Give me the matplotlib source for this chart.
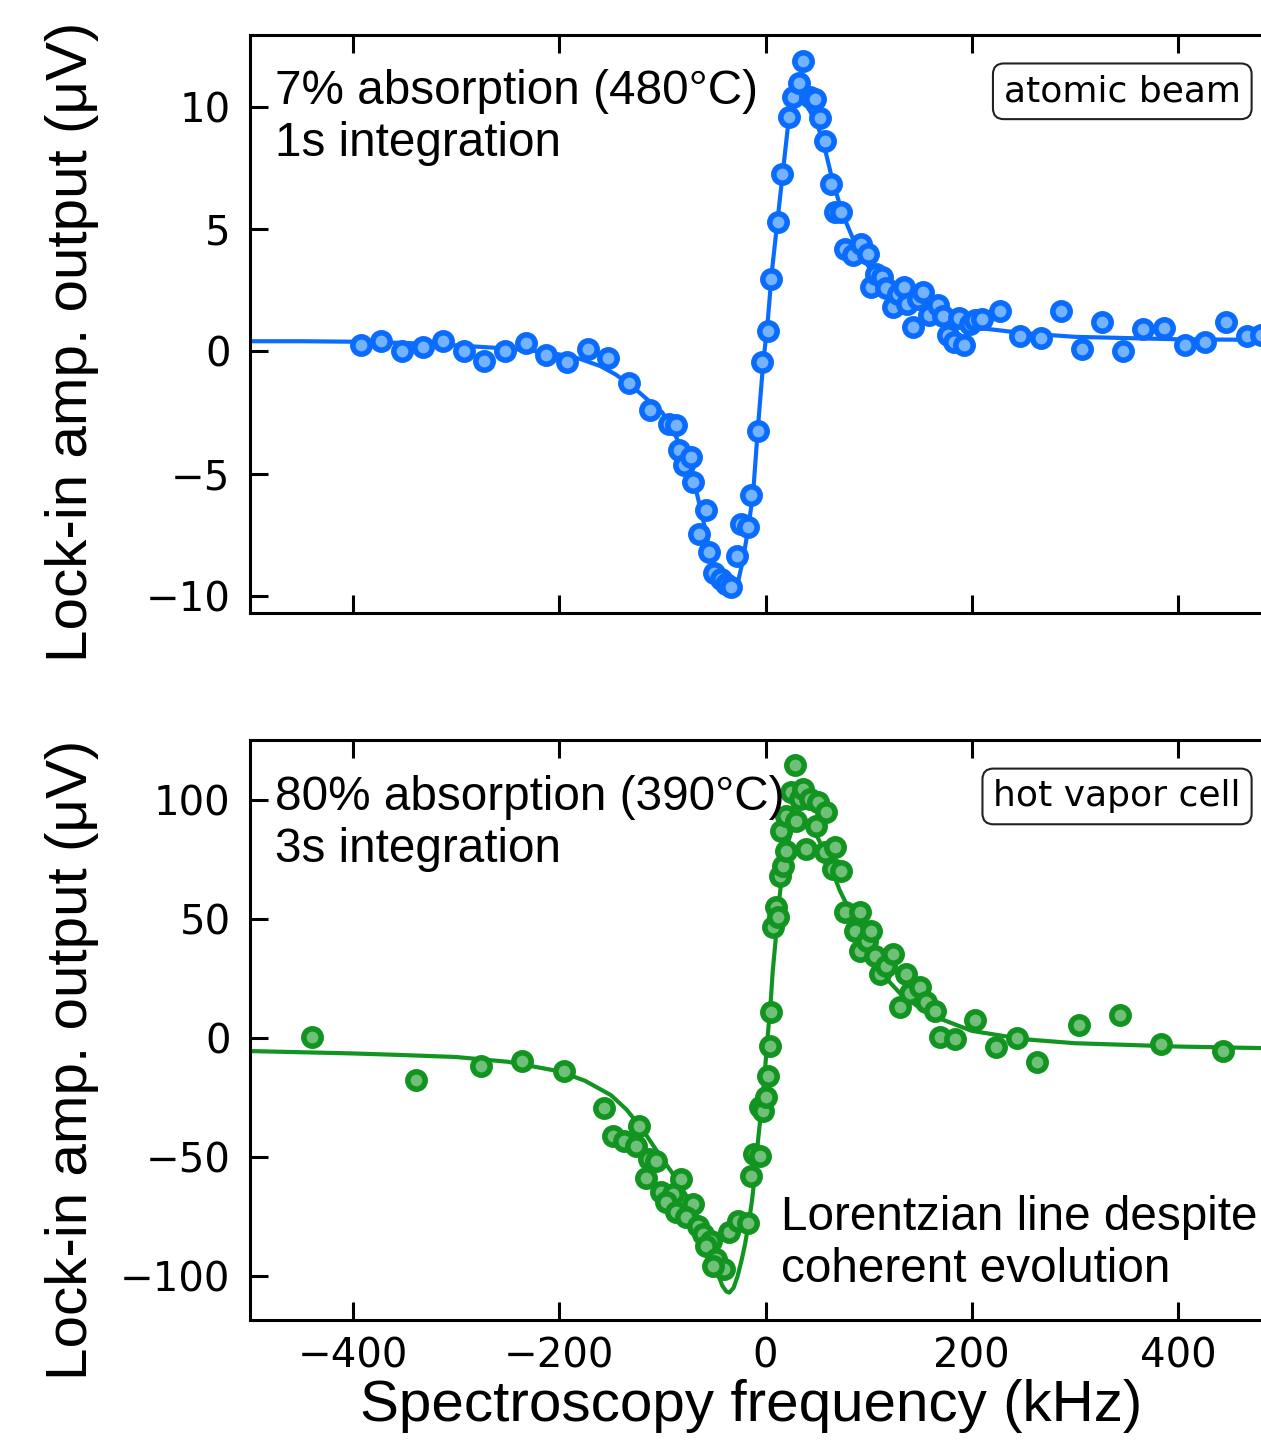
import matplotlib
matplotlib.use("Agg")
import matplotlib.pyplot as plt

# ---- data ------------------------------------------------------------
# top panel: atomic beam (kHz, uV)
beam_x = [-392.7, -372.6, -352.6, -332.6, -312.6, -292.6, -272.6, -252.5,
          -232.5, -212.5, -192.5, -172.5, -152.5, -132.5, -112.4, -93.2,
          -86.7, -83.5, -78.6, -72.1, -70.6, -64.1, -57.6, -54.4, -49.5,
          -43.0, -38.2, -33.3, -27.8, -23.6, -17.2, -13.9, -7.4, -3.2, 2.3,
          5.5, 12.0, 16.2, 22.6, 26.5, 32.3, 36.2, 42.7, 47.6, 53.1, 57.3,
          63.8, 67.0, 73.5, 76.7, 84.8, 92.9, 99.4, 102.6, 107.5, 113.0,
          116.5, 123.4, 128.7, 133.9, 137.4, 142.6, 147.8, 153.1, 158.3,
          167.0, 172.2, 177.4, 182.6, 187.8, 193.0, 198.2, 203.4, 210.4,
          227.0, 246.8, 266.9, 286.7, 306.9, 326.7, 346.8, 366.6, 386.7,
          407.2, 426.6, 446.4, 466.6, 481.0]
beam_y = [0.26, 0.42, 0.00, 0.19, 0.42, 0.00, -0.40, 0.03, 0.34, -0.15,
          -0.43, 0.11, -0.28, -1.28, -2.40, -2.96, -2.99, -4.05, -4.66,
          -4.32, -5.32, -7.48, -6.50, -8.21, -9.07, -9.30, -9.50, -9.64,
          -8.38, -7.05, -7.20, -5.86, -3.27, -0.44, 0.82, 2.97, 5.29, 7.27,
          9.58, 10.40, 11.00, 11.90, 10.40, 10.33, 9.56, 8.63, 6.86, 5.70,
          5.70, 4.20, 3.93, 4.40, 4.00, 2.63, 3.18, 3.06, 2.59, 1.82, 2.36,
          2.64, 1.93, 1.00, 2.13, 2.44, 1.51, 1.90, 1.44, 0.69, 0.39, 1.36,
          0.28, 1.13, 1.28, 1.31, 1.67, 0.63, 0.54, 1.67, 0.12, 1.20, 0.02,
          0.93, 0.97, 0.28, 0.40, 1.20, 0.63, 0.69]
beam_fit_x = [-500, -450, -400, -350, -300, -250, -220, -200, -180, -160,
              -145, -130, -115, -100, -90, -80, -70, -61, -51, -45, -40, -33,
              -27, -22, -17, -12, -7.5, -2.5, 2.5, 6, 12, 17, 22, 27, 32, 36,
              43, 51, 57, 65, 75, 88, 104, 120, 140, 160, 180, 200, 250, 300,
              400, 500]
beam_fit_y = [0.42, 0.42, 0.40, 0.35, 0.25, 0.12, 0.0, -0.12, -0.3, -0.6,
              -0.95, -1.4, -1.95, -2.5, -3.2, -4.1, -5.2, -6.8, -8.7, -9.4,
              -9.75, -9.9, -9.5, -8.55, -7.3, -5.8, -3.2, -0.6, 1.4, 3.2, 5.5,
              7.4, 9.3, 10.1, 10.35, 10.3, 9.85, 9.2, 8.4, 7.0, 5.6, 4.3, 3.2,
              2.6, 2.0, 1.6, 1.3, 1.0, 0.75, 0.6, 0.5, 0.47]

# bottom panel: hot vapor cell (kHz, uV)
cell_x = [-439.4, -339.3, -275.9, -235.9, -195.8, -156.3, -148.2, -136.9,
          -122.3, -125.5, -112.6, -106.1, -115.8, -81.8, -101.3, -90.0,
          -96.4, -86.7, -70.6, -77.0, -65.7, -60.9, -52.7, -57.6, -47.9,
          -39.8, -51.2, -35.0, -26.9, -17.2, -13.9, -10.7, -5.8, -5.8, -2.6,
          0.6, 2.3, 3.9, 5.5, 7.1, 10.4, 11.9, 13.6, 16.8, 15.2, 20.1, 20.1,
          24.9, 28.2, 29.8, 33.0, 36.2, 39.5, 42.7, 49.2, 50.8, 57.3, 58.9,
          65.3, 67.0, 73.5, 76.7, 86.4, 91.3, 91.3, 98.9, 102.6, 105.8,
          110.7, 117.2, 123.6, 130.1, 136.6, 140.5, 149.5, 156.0, 164.0,
          169.0, 183.8, 203.3, 223.4, 243.5, 263.2, 304.1, 343.9, 383.4,
          443.3]
cell_y = [0.5, -17.5, -11.8, -9.8, -13.8, -29.5, -41.3, -43.1, -37.1, -45.2,
          -50.8, -51.5, -58.9, -59.2, -64.8, -65.5, -69.0, -73.2, -69.7,
          -75.3, -78.9, -82.4, -85.2, -87.3, -92.9, -97.1, -95.7, -81.6,
          -76.8, -77.7, -57.9, -48.7, -49.4, -29.1, -30.5, -24.9, -15.8,
          -3.2, 10.8, 46.5, 54.9, 50.7, 68.2, 72.4, 87.1, 78.7, 93.4, 103.2,
          114.7, 91.3, 100.4, 104.6, 79.4, 100.4, 89.2, 99.0, 78.0, 94.8,
          71.0, 80.1, 70.3, 52.8, 45.1, 52.8, 36.7, 40.8, 45.1, 34.6, 26.9,
          30.4, 35.3, 12.9, 26.9, 18.7, 21.3, 15.0, 11.5, 0.3, -0.3, 7.6,
          -4.0, 0.0, -10.3, 5.5, 9.7, -2.4, -5.5]
cell_fit_x = [-500, -450, -400, -350, -300, -250, -200, -175, -150, -135,
              -120, -103, -90, -80, -70, -65, -55, -48, -42, -38, -35, -31,
              -27, -23, -20, -16, -13, -10, -7, -4, -1, 2, 5, 7, 10, 13, 16,
              20, 25, 30, 35, 40, 46, 52, 58, 65, 72, 80, 90, 100, 115, 130,
              150, 170, 200, 250, 300, 400, 500]
cell_fit_y = [-5.5, -6.0, -6.5, -7.2, -8.0, -10.0, -14.0, -18.0, -24.0, -30.0,
              -38.0, -49.0, -57.0, -64.0, -71.0, -76.0, -88.0, -97.0, -104.0,
              -106.5, -107.0, -105.0, -100.0, -93.0, -87.0, -77.0, -68.0,
              -56.0, -42.0, -30.0, -16.0, 0.0, 15.0, 28.0, 42.0, 57.0, 68.0,
              79.0, 87.0, 91.0, 92.0, 91.0, 88.0, 83.0, 77.0, 70.0, 62.0, 55.0,
              44.0, 34.0, 26.0, 19.0, 12.5, 8.0, 3.0, -0.5, -2.2, -3.6, -4.4]

x_ticks = [-400, -200, 0, 200, 400]
beam_ticks = [-10, -5, 0, 5, 10]
cell_ticks = [-100, -50, 0, 50, 100]

# ---- figure -------------------------------------------------------------
W, H = 1261, 1448
fig = plt.figure(figsize=(W / 100, H / 100), dpi=100)
sans = "Liberation Sans"

ax1 = fig.add_axes([250 / W, 1 - 613 / H, 1031 / W, 578 / H])
ax2 = fig.add_axes([250 / W, 1 - 1320 / H, 1031 / W, 580 / H])

panels = [
    (ax1, beam_x, beam_y, beam_fit_x, beam_fit_y, "#0a6cff", "#74b3ff",
     beam_ticks, (-10.7, 12.95), "7% absorption (480°C)\n1s integration",
     0.941, "atomic beam"),
    (ax2, cell_x, cell_y, cell_fit_x, cell_fit_y, "#129421", "#70c079",
     cell_ticks, (-118.5, 125.2), "80% absorption (390°C)\n3s integration",
     0.940, "hot vapor cell"),
]

for ax, x, y, fx, fy, edge, face, yt, ylim, note, note_y, tag in panels:
    ax.plot(fx, fy, color=edge, lw=3, zorder=2)
    ax.plot(x, y, "o", ms=12.5, mew=4, mec=edge, mfc=face, zorder=3)
    ax.set_xlim(-500, 500)
    ax.set_ylim(*ylim)
    ax.set_xticks(x_ticks)
    ax.set_yticks(yt)
    for s in ax.spines.values():
        s.set_linewidth(2.2)
    ax.tick_params(direction="in", length=13, width=2.2, labelsize=29,
                   top=True, right=True)
    ax.tick_params(axis="y", pad=14)
    ax.tick_params(axis="x", pad=12)
    ax.text(0.024, note_y, note, transform=ax.transAxes, ha="left", va="top",
            fontsize=34.3, family=sans, linespacing=1.2)
    ax.text(0.961, 0.932, tag, transform=ax.transAxes, ha="right", va="top",
            fontsize=26,
            bbox=dict(boxstyle="round,pad=0.3", fc="white", ec="#222222",
                      lw=1.5))

ax1.tick_params(labelbottom=False)
ax2.text(15.5, -66, "Lorentzian line despite\ncoherent evolution",
         ha="left", va="top", fontsize=34.3, family=sans, linespacing=1.2)

ylab = "Lock-in amp. output (μV)"
fig.text(72 / W, 1 - 342 / H, ylab, rotation=90, ha="center", va="center",
         fontsize=42, family=sans)
fig.text(72 / W, 1 - 1060 / H, ylab, rotation=90, ha="center", va="center",
         fontsize=42, family=sans)
fig.text(751 / W, 1 - 1406 / H, "Spectroscopy frequency (kHz)", ha="center",
         va="center", fontsize=42, family=sans)

fig.savefig("out.png", dpi=100)
